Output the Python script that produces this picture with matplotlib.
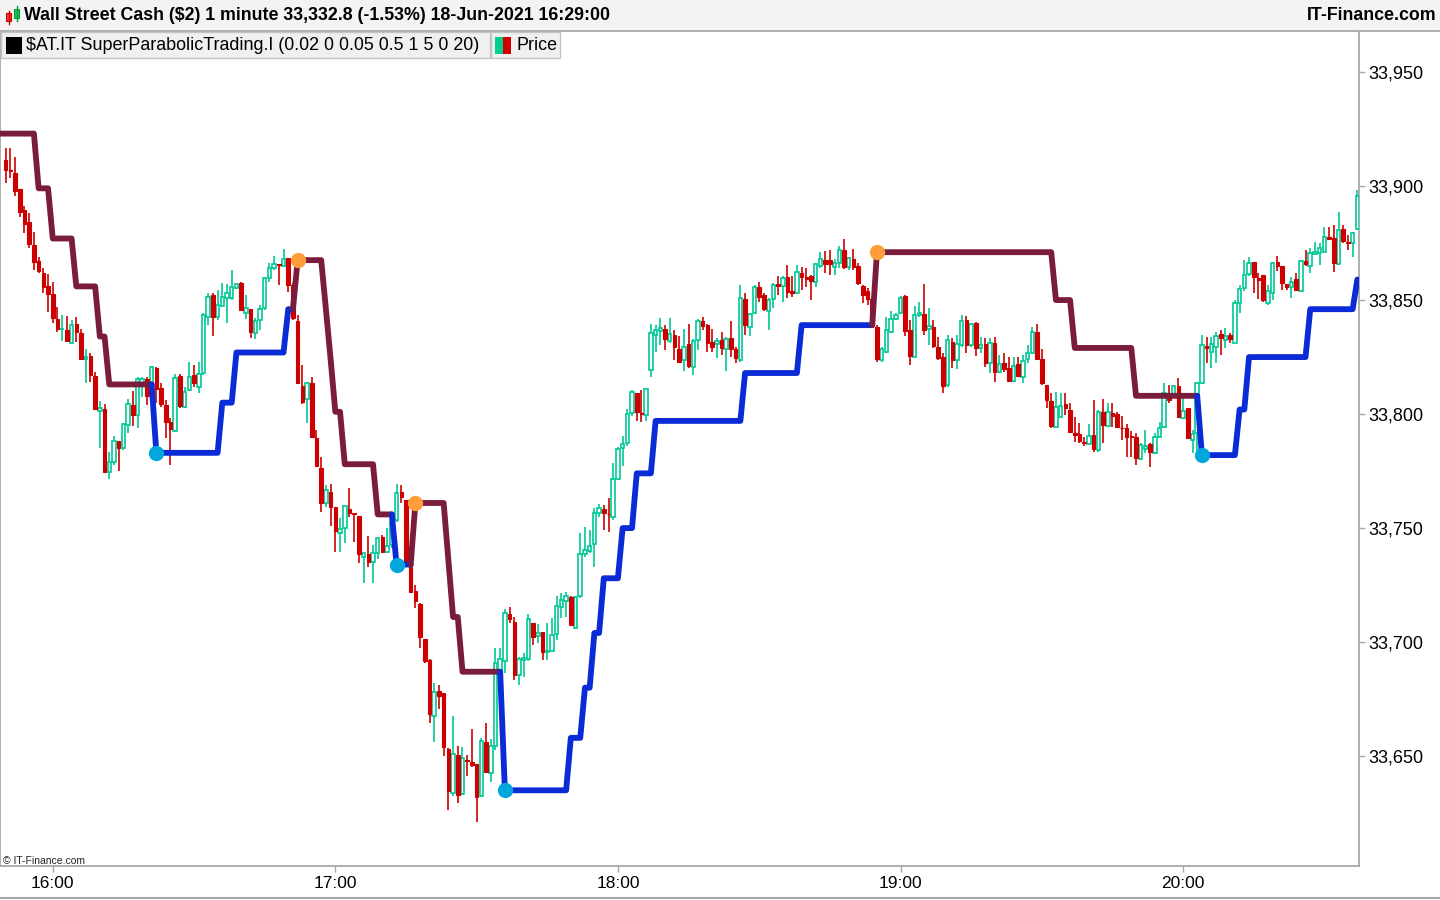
import matplotlib
matplotlib.use("Agg")
import matplotlib.pyplot as plt
from matplotlib.patches import Rectangle
from matplotlib.lines import Line2D
import numpy as np
import pandas as pd

# ---------------- data ----------------
open_ = [
33911.4,33907.0,33905.7,33898.7,33889.5,33884.2,33874.1,33867.1,33861.9,33856.2,
33852.7,33841.7,33837.1,33836.9,33831.2,33839.5,33835.5,33824.1,33825.5,33816.7,
33801.3,33802.2,33774.6,33779.0,33788.2,33785.1,33795.2,33804.0,33799.6,33813.6,
33815.4,33811.9,33820.2,33811.4,33804.0,33796.5,33792.6,33816.7,33803.1,33810.5,
33817.1,33811.9,33818.0,33842.6,33852.2,33842.6,33847.4,33850.9,33850.9,33855.3,
33857.5,33844.3,33846.1,33835.5,33841.2,33846.5,33859.7,33864.1,33865.8,33864.9,
33868.4,33856.6,33840.8,33812.3,33806.6,33813.6,33789.5,33776.3,33761.0,33765.8,
33759.2,33747.8,33750.0,33758.4,33756.6,33755.3,33737.3,33738.6,33735.1,33739.1,
33746.1,33739.5,33742.6,33753.5,33765.8,33762.3,33736.0,33722.4,33716.7,33701.3,
33692.1,33667.6,33678.5,33677.6,33653.1,33633.8,33650.5,33633.4,33648.3,33647.4,
33646.5,33632.5,33656.2,33642.6,33654.4,33686.9,33691.7,33712.3,33708.8,33685.5,
33692.1,33692.6,33708.4,33702.7,33704.4,33695.6,33696.1,33703.5,33715.4,33718.0,
33719.8,33706.2,33720.2,33738.6,33739.9,33743.0,33756.6,33758.4,33756.2,33754.8,
33771.5,33785.1,33787.3,33800.5,33809.2,33800.5,33799.6,33819.3,33834.7,33836.4,
33837.3,33832.0,33834.7,33828.5,33823.7,33830.7,33820.6,33832.5,33840.8,33839.1,
33831.6,33830.7,33832.5,33828.5,33833.4,33828.5,33823.7,33850.5,33838.2,33844.3,
33855.7,33852.2,33845.2,33850.5,33857.0,33856.2,33860.1,33854.0,33853.1,33861.9,
33859.9,33860.5,33857.9,33864.9,33867.6,33867.6,33864.5,33866.2,33871.9,33864.5,
33868.0,33864.9,33856.2,33854.0,33850.5,33838.2,33823.7,33827.2,33836.0,33841.7,
33844.3,33851.8,33836.9,33825.0,33843.4,33843.9,33837.3,33838.2,33829.4,33825.0,
33812.7,33831.6,33823.7,33830.3,33841.2,33830.3,33839.9,33829.0,33830.7,33822.4,
33831.2,33818.4,33822.4,33820.2,33814.5,33821.9,33816.2,33824.1,33826.8,33836.0,
33824.1,33812.7,33805.7,33794.3,33798.7,33804.4,33801.8,33791.7,33791.2,33787.7,
33786.9,33790.8,33784.2,33800.9,33794.8,33800.5,33800.0,33794.1,33793.9,33790.4,
33789.9,33780.3,33784.7,33786.9,33782.9,33789.9,33794.3,33809.2,33808.8,33812.3,
33798.3,33802.7,33788.6,33791.7,33813.6,33829.8,33827.2,33829.4,33835.1,33832.5,
33834.7,33831.2,33848.7,33855.3,33861.4,33866.7,33859.7,33861.0,33848.7,33853.1,
33866.7,33864.9,33857.0,33855.7,33859.2,33854.0,33867.1,33864.9,33870.2,33870.6,
33871.1,33877.7,33877.2,33865.8,33881.2,33875.5,33875.0,33881.2]

high = [
33916.7,33916.7,33912.7,33898.7,33891.2,33888.2,33879.8,33868.9,33864.1,33861.4,
33857.9,33846.9,33843.4,33843.0,33841.2,33842.6,33837.3,33828.5,33826.8,33818.4,
33805.7,33804.4,33783.4,33790.4,33788.2,33796.1,33806.6,33810.1,33816.2,33816.2,
33816.2,33821.1,33820.6,33813.6,33806.2,33798.3,33817.6,33817.6,33811.9,33822.8,
33821.5,33822.8,33844.3,33853.1,33853.1,33854.4,33857.5,33857.0,33863.2,33857.5,
33857.9,33852.2,33846.1,33842.1,33847.8,33860.1,33866.2,33869.3,33865.8,33872.4,
33868.4,33857.5,33843.4,33821.5,33814.1,33816.2,33793.0,33781.2,33768.9,33769.3,
33759.2,33754.4,33759.7,33767.6,33756.6,33755.3,33739.1,33746.5,33742.6,33745.6,
33746.9,33750.0,33754.4,33769.3,33768.9,33762.3,33736.0,33725.0,33717.1,33701.3,
33692.6,33682.0,33681.2,33677.6,33653.5,33667.6,33654.4,33654.0,33650.5,33661.9,
33646.5,33657.9,33664.5,33657.5,33697.4,33697.4,33714.5,33715.4,33711.0,33693.4,
33695.2,33712.3,33708.4,33707.9,33704.4,33708.4,33710.5,33720.2,33721.5,33721.9,
33720.2,33720.2,33747.8,33750.5,33749.1,33758.8,33760.5,33760.1,33763.2,33778.5,
33785.5,33790.4,33802.2,33810.5,33809.2,33810.5,33811.0,33839.5,33839.1,33842.1,
33839.1,33842.1,33836.9,33834.2,33837.3,33839.5,33832.9,33841.7,33842.6,33839.5,
33837.3,33833.4,33836.0,33833.8,33840.8,33829.4,33856.6,33853.1,33844.3,33856.6,
33857.9,33853.1,33850.9,33857.5,33860.5,33860.5,33865.4,33860.5,33865.4,33864.5,
33864.1,33861.0,33866.2,33871.1,33871.5,33871.9,33868.0,33873.7,33876.8,33868.9,
33872.4,33866.2,33856.6,33855.3,33851.3,33839.1,33829.4,33842.6,33845.2,33844.3,
33851.8,33852.2,33841.2,33847.4,33849.1,33857.0,33846.5,33841.2,33833.8,33826.8,
33834.7,33833.4,33834.7,33843.4,33843.0,33839.9,33840.4,33833.8,33833.4,33833.4,
33833.8,33825.9,33826.8,33825.0,33825.0,33825.0,33825.9,33830.3,33838.2,33839.5,
33828.5,33812.7,33809.2,33809.7,33809.2,33809.2,33804.8,33798.7,33796.1,33789.9,
33795.6,33806.2,33801.8,33806.6,33804.8,33804.8,33800.9,33799.1,33795.6,33792.6,
33791.7,33787.3,33793.0,33787.3,33791.7,33796.5,33813.6,33812.7,33812.7,33815.8,
33809.2,33802.7,33793.0,33814.1,33834.7,33833.8,33833.8,33836.0,33836.9,33837.7,
33835.5,33850.0,33856.6,33867.6,33868.9,33866.7,33861.9,33861.0,33856.6,33866.7,
33869.3,33864.9,33857.0,33860.1,33861.9,33867.6,33871.9,33872.8,33875.5,33875.0,
33882.0,33882.0,33882.9,33888.6,33882.9,33878.5,33879.8,33898.3]

low = [
33901.3,33903.5,33895.6,33886.4,33879.4,33872.8,33863.2,33861.9,33853.1,33844.8,
33839.9,33836.0,33832.0,33831.6,33830.7,33831.6,33823.7,33813.6,33814.1,33801.8,
33785.1,33774.1,33771.5,33777.6,33775.0,33784.2,33791.7,33794.8,33793.9,33807.5,
33804.0,33807.5,33804.8,33803.1,33789.5,33777.6,33792.1,33802.7,33802.7,33810.1,
33811.9,33809.2,33817.1,33839.1,33834.2,33841.2,33846.9,33839.9,33850.0,33854.8,
33845.2,33841.7,33833.4,33832.9,33836.9,33845.6,33857.9,33863.2,33856.6,33864.5,
33853.5,33841.2,33813.2,33804.4,33796.1,33789.5,33776.8,33757.0,33759.2,33750.9,
33739.5,33739.5,33743.4,33754.8,33743.9,33734.7,33725.9,33732.9,33725.9,33736.4,
33739.1,33739.1,33741.2,33752.6,33761.0,33734.7,33721.5,33714.9,33697.4,33690.8,
33664.5,33656.2,33670.6,33650.0,33626.3,33632.5,33629.4,33632.9,33641.2,33645.2,
33621.1,33632.0,33642.6,33638.6,33652.7,33686.4,33686.4,33708.4,33683.4,33681.2,
33684.7,33691.7,33698.7,33699.6,33692.1,33692.1,33695.6,33700.9,33710.5,33711.0,
33707.0,33705.7,33719.3,33737.3,33739.1,33732.9,33754.8,33749.1,33748.3,33753.5,
33771.1,33777.2,33786.0,33799.1,33796.9,33796.5,33796.9,33816.2,33827.2,33830.3,
33828.1,33831.2,33823.7,33822.4,33818.9,33820.2,33817.1,33828.1,33836.9,33827.2,
33827.2,33824.6,33825.9,33818.9,33825.0,33822.4,33822.8,33834.7,33834.2,33843.9,
33849.1,33845.2,33836.9,33846.5,33852.2,33849.1,33850.9,33851.3,33852.7,33854.4,
33855.7,33850.0,33855.7,33864.1,33861.9,33861.0,33861.0,33864.1,33863.6,33863.2,
33863.2,33856.6,33848.7,33847.8,33838.2,33822.8,33822.8,33826.8,33835.5,33841.2,
33843.9,33834.2,33821.5,33825.0,33842.6,33834.7,33830.3,33829.0,33823.7,33809.2,
33811.9,33820.2,33819.8,33829.4,33826.8,33829.4,33825.5,33826.8,33820.6,33818.0,
33814.1,33818.0,33818.4,33814.5,33814.1,33816.2,33813.6,33822.4,33826.3,33823.7,
33812.7,33802.7,33793.9,33793.9,33798.3,33799.6,33791.7,33787.7,33787.3,33786.0,
33786.4,33783.4,33783.4,33787.3,33794.3,33794.3,33793.9,33788.6,33781.2,33781.2,
33777.6,33779.8,33782.9,33776.8,33782.5,33789.5,33793.9,33804.8,33807.5,33798.3,
33797.8,33789.1,33782.9,33782.0,33813.2,33822.4,33820.2,33822.4,33825.9,33829.0,
33831.2,33831.2,33844.3,33854.0,33860.5,33853.1,33850.5,33849.1,33847.8,33850.0,
33862.7,33854.4,33854.4,33850.9,33854.0,33853.5,33864.9,33861.9,33869.8,33865.4,
33871.1,33876.3,33862.3,33865.4,33875.0,33871.9,33868.9,33880.7]

close = [
33907.0,33906.6,33897.8,33888.6,33883.4,33874.6,33866.7,33862.7,33855.7,33852.7,
33842.1,33837.3,33837.3,33832.0,33839.1,33836.0,33824.1,33825.0,33817.1,33802.2,
33802.6,33774.6,33779.0,33788.2,33785.1,33795.6,33804.4,33799.6,33815.4,33815.4,
33807.9,33820.6,33811.0,33804.4,33796.5,33793.4,33815.8,33803.5,33809.7,33816.2,
33813.6,33817.6,33843.4,33851.3,33842.6,33847.8,33851.3,33853.1,33855.7,33857.0,
33845.6,33846.5,33836.0,33840.8,33846.1,33859.7,33864.1,33865.8,33865.4,33868.0,
33856.6,33842.1,33813.6,33805.3,33813.6,33789.9,33777.2,33761.0,33766.7,33759.2,
33748.7,33749.6,33759.7,33756.6,33756.2,33738.6,33739.1,33735.1,33739.1,33745.6,
33739.5,33742.1,33752.6,33765.4,33763.6,33735.1,33721.9,33718.0,33702.2,33691.7,
33668.4,33678.1,33676.3,33654.0,33634.7,33650.9,33632.9,33649.1,33647.8,33646.1,
33632.0,33656.6,33643.0,33654.4,33690.8,33692.6,33712.7,33710.1,33685.5,33692.6,
33693.0,33710.1,33702.2,33704.0,33695.6,33696.1,33703.1,33715.8,33718.4,33720.2,
33707.5,33719.8,33738.6,33740.4,33742.1,33756.6,33758.8,33756.6,33756.0,33771.5,
33784.7,33786.9,33800.0,33809.7,33800.9,33800.0,33811.0,33835.5,33836.9,33837.7,
33832.9,33835.1,33829.4,33822.8,33829.4,33821.1,33832.0,33840.8,33838.6,33831.2,
33829.4,33832.0,33829.0,33832.9,33828.5,33824.6,33850.9,33839.1,33843.9,33855.7,
33851.3,33846.1,33850.0,33856.6,33856.2,33859.7,33853.5,33853.1,33862.3,33860.1,
33859.4,33858.4,33865.8,33868.0,33865.8,33865.8,33866.2,33871.9,33864.5,33868.4,
33864.5,33857.5,33852.2,33850.5,33839.1,33824.1,33828.5,33836.9,33841.7,33843.4,
33850.9,33836.4,33825.5,33843.4,33844.3,33836.9,33838.6,33829.8,33824.6,33812.3,
33832.5,33823.7,33830.7,33840.8,33830.3,33839.5,33829.0,33830.3,33822.4,33831.2,
33818.4,33821.9,33819.8,33814.5,33821.1,33816.7,33823.3,33826.8,33836.0,33824.1,
33813.6,33806.2,33794.8,33803.1,33803.5,33802.7,33792.1,33790.8,33788.2,33787.3,
33790.4,33784.7,33800.9,33795.2,33800.9,33799.1,33794.3,33793.9,33789.9,33789.9,
33780.7,33786.4,33786.0,33783.4,33789.9,33793.9,33809.2,33806.2,33812.3,33798.7,
33801.3,33789.5,33791.2,33813.6,33830.3,33829.0,33830.7,33834.2,33833.4,33834.2,
33832.9,33848.7,33854.8,33861.0,33866.2,33860.1,33858.8,33850.0,33854.0,33866.2,
33864.9,33857.5,33855.7,33857.9,33854.4,33867.1,33865.8,33870.6,33871.1,33872.8,
33877.7,33876.8,33866.2,33880.7,33875.9,33875.0,33879.4,33895.6]

# SuperParabolic stop levels: bar where each level starts, and the level
sar_start = [0, 7, 10, 15, 20, 22, 32, 46, 49, 60, 62, 68, 69, 70, 72, 79, 83, 87,
             94, 95, 97, 106, 120, 123, 125, 127, 131, 134, 138, 157, 169, 185,
             223, 227, 240, 254, 262, 264, 277, 287]
sar_level = [33923, 33899, 33877, 33856, 33834, 33813, 33783, 33805, 33827, 33846,
             33867.5, 33846, 33824, 33801, 33778, 33756, 33734, 33761,
             33736, 33711, 33687, 33635, 33658, 33680, 33704, 33728, 33750, 33774,
             33797, 33818, 33839, 33871, 33850, 33829, 33808, 33782, 33802, 33825,
             33846, 33859]
long_starts = [32, 83, 106, 254]     # reversal to long (blue line, cyan dot)
short_starts = [62, 87, 185]         # reversal to short (maroon line, orange dot)

start_time = "2021-06-18 15:50"
n_bars = len(close)
x_tick_labels = ["16:00", "17:00", "18:00", "19:00", "20:00"]
y_ticks = [33650, 33700, 33750, 33800, 33850, 33900, 33950]

title_text = "Wall Street Cash ($2) 1 minute 33,332.8 (-1.53%) 18-Jun-2021 16:29:00"
legend_ind = "$AT.IT SuperParabolicTrading.I (0.02 0 0.05 0.5 1 5 0 20)"
legend_price = "Price"
brand = "IT-Finance.com"

# ---------------- styling ----------------
UP = "#00C896"
DOWN = "#CC0000"
MAROON = "#7A1C3C"
BLUE = "#0A2BD6"
CYAN = "#00A6DC"
ORANGE = "#FF9E3A"
GRID = "#A8A8A8"
FONT = "Liberation Sans"

W, H = 1440, 900
fig = plt.figure(figsize=(W / 100, H / 100), dpi=100)
fig.patch.set_facecolor("white")

def fx(px):
    return px / W

def fy(py):
    return 1 - py / H

ax_left, ax_right, ax_top, ax_bottom = 0, 1359, 31, 866
ax = fig.add_axes([fx(ax_left), fy(ax_bottom), fx(ax_right - ax_left), (ax_bottom - ax_top) / H])
ax.set_facecolor("white")

times = pd.date_range(start_time, periods=n_bars, freq="1min")
labels_all = times.strftime("%H:%M")
xs = np.arange(n_bars)
o = np.array(open_); h = np.array(high); l = np.array(low); c = np.array(close)
up = c >= o

# wicks
ax.vlines(xs[up], l[up], h[up], color=UP, lw=1.2, zorder=2)
ax.vlines(xs[~up], l[~up], h[~up], color=DOWN, lw=1.2, zorder=2)
# bodies
bw = 0.75
ax.bar(xs[up], (c - o)[up], bottom=o[up], width=bw, facecolor="white",
       edgecolor=UP, linewidth=1.2, zorder=3)
ax.bar(xs[~up], (c - o)[~up], bottom=o[~up], width=bw, facecolor=DOWN,
       edgecolor=DOWN, linewidth=0.8, zorder=3)

# indicator per bar
sar = np.empty(n_bars)
for k, s in enumerate(sar_start):
    e = sar_start[k + 1] if k + 1 < len(sar_start) else n_bars
    sar[s:e] = sar_level[k]
side = np.full(n_bars, -1)
events = sorted([(b, 1) for b in long_starts] + [(b, -1) for b in short_starts])
for b, sd in events:
    side[b:] = sd

xlim = (-1.2, 287.35)
run_start = 0
for i in range(1, n_bars + 1):
    if i == n_bars or side[i] != side[run_start]:
        a, b = run_start, i - 1
        if a == 0:
            px = np.concatenate([[xlim[0]], xs[a:b + 1]])
            py = np.concatenate([[sar[0]], sar[a:b + 1]])
        else:
            px = xs[a - 1:b + 1]
            py = sar[a - 1:b + 1]
        col = BLUE if side[run_start] == 1 else MAROON
        ax.plot(px, py, color=col, lw=4.2, solid_joinstyle="round",
                solid_capstyle="round", zorder=4)
        run_start = i

ax.plot(long_starts, sar[long_starts], "o", color=CYAN, ms=11, mec="none", zorder=5)
ax.plot(short_starts, sar[short_starts], "o", color=ORANGE, ms=11, mec="none", zorder=5)

ax.set_xlim(*xlim)
ax.set_ylim(33601.8, 33968.0)

tick_pos = [int(np.where(labels_all == t)[0][0]) for t in x_tick_labels]
ax.set_xticks(tick_pos)
ax.set_xticklabels(x_tick_labels, fontsize=12.5, family=FONT)
ax.yaxis.tick_right()
ax.set_yticks(y_ticks)
ax.set_yticklabels([f"{v:,}" for v in y_ticks], fontsize=13, family=FONT)
ax.tick_params(axis="both", color=GRID, length=4, width=1)
ax.tick_params(axis="y", pad=3)
ax.tick_params(axis="x", pad=3.5)
for sp in ["left", "right", "bottom"]:
    ax.spines[sp].set_color(GRID)
    ax.spines[sp].set_linewidth(1.3)
ax.spines["top"].set_visible(False)

fig.text(fx(3), fy(861), "\u00a9 IT-Finance.com", fontsize=7.5,
         family=FONT, color="#222222", va="center", ha="left")

# ---------------- header ----------------
fig.patches.append(Rectangle((0, fy(31)), 1, 31 / H, transform=fig.transFigure,
                             facecolor="#F3F3F3", edgecolor="none", zorder=1))
fig.lines.append(Line2D([0, 1], [fy(31), fy(31)], transform=fig.transFigure,
                        color=GRID, lw=1.3))
fig.lines.append(Line2D([0, 1], [fy(898), fy(898)], transform=fig.transFigure,
                        color=GRID, lw=1.5))

# small candle icon
fig.lines.append(Line2D([fx(8.5), fx(8.5)], [fy(11), fy(24)], transform=fig.transFigure, color=DOWN, lw=1))
fig.patches.append(Rectangle((fx(6), fy(21)), fx(5), 8 / H, transform=fig.transFigure,
                             facecolor="#E84040", edgecolor=DOWN, lw=0.8))
fig.lines.append(Line2D([fx(16.5), fx(16.5)], [fy(6), fy(21)], transform=fig.transFigure, color="#00A040", lw=1))
fig.patches.append(Rectangle((fx(14), fy(18)), fx(5), 9 / H, transform=fig.transFigure,
                             facecolor="#30C050", edgecolor="#00A040", lw=0.8))

fig.text(fx(24), fy(15.5), title_text, fontsize=12.8, fontweight="bold", family=FONT,
         va="center", ha="left", color="black")
fig.text(fx(1436), fy(15.5), brand, fontsize=12.8, fontweight="bold", family=FONT,
         va="center", ha="right", color="black")

# legend boxes
fig.patches.append(Rectangle((fx(1), fy(58)), fx(489), 26 / H, transform=fig.transFigure,
                             facecolor="#F0F0F0", edgecolor="#C4C4C4", lw=1, zorder=5))
fig.patches.append(Rectangle((fx(491), fy(58)), fx(69), 26 / H, transform=fig.transFigure,
                             facecolor="#F0F0F0", edgecolor="#C4C4C4", lw=1, zorder=5))
fig.patches.append(Rectangle((fx(6), fy(54)), fx(16), 17 / H, transform=fig.transFigure,
                             facecolor="black", edgecolor="none", zorder=6))
fig.patches.append(Rectangle((fx(495), fy(54)), fx(8), 17 / H, transform=fig.transFigure,
                             facecolor="#00D08A", edgecolor="none", zorder=6))
fig.patches.append(Rectangle((fx(503), fy(54)), fx(8), 17 / H, transform=fig.transFigure,
                             facecolor="#D00000", edgecolor="none", zorder=6))
fig.text(fx(26), fy(45), legend_ind, fontsize=12.9, family=FONT, va="center",
         ha="left", color="black", zorder=7)
fig.text(fx(516), fy(45), legend_price, fontsize=12.9, family=FONT, va="center",
         ha="left", color="black", zorder=7)

fig.savefig("out.png", dpi=100, facecolor="white")
